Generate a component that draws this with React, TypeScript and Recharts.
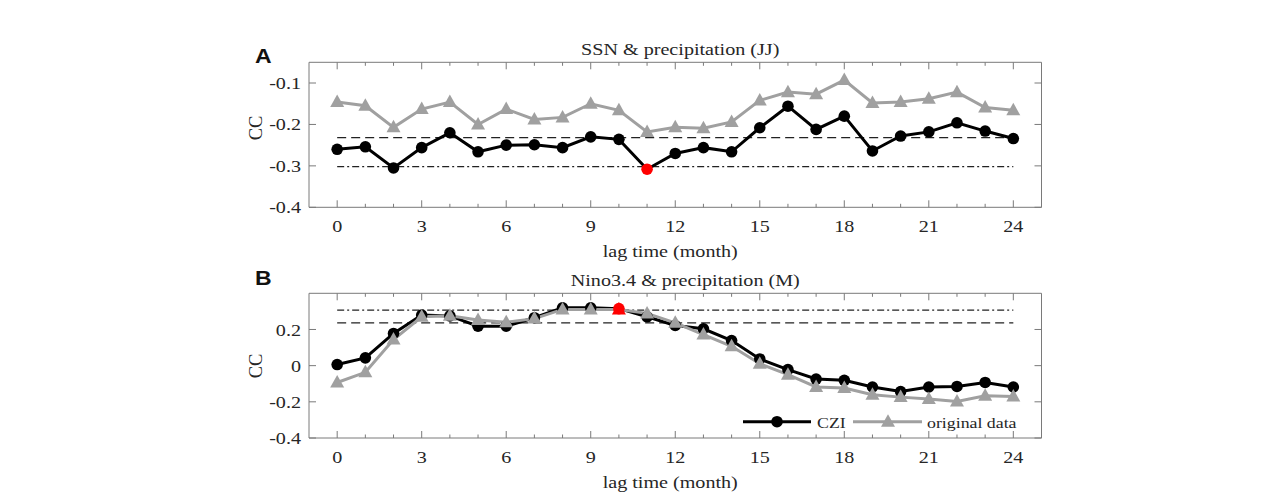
import React from "react";
import { LineChart, Line, XAxis, YAxis, ReferenceLine, Legend } from "recharts";

// lag time (month)
const lags = [0, 1, 2, 3, 4, 5, 6, 7, 8, 9, 10, 11, 12, 13, 14, 15, 16, 17, 18, 19, 20, 21, 22, 23, 24];

// panel A: SSN & precipitation (JJ)
const cziA = [-0.26, -0.254, -0.305, -0.256, -0.22, -0.266, -0.25, -0.249, -0.256, -0.23, -0.236, -0.308, -0.27, -0.256, -0.266, -0.208, -0.156, -0.212, -0.18, -0.264, -0.228, -0.218, -0.196, -0.216, -0.234];
const origA = [-0.146, -0.155, -0.207, -0.163, -0.146, -0.2, -0.163, -0.188, -0.183, -0.15, -0.166, -0.218, -0.207, -0.209, -0.194, -0.142, -0.122, -0.127, -0.093, -0.148, -0.146, -0.138, -0.122, -0.159, -0.166];
const dashedA = -0.232;
const dashDotA = -0.302;
const yTicksA = [-0.4, -0.3, -0.2, -0.1];

// panel B: Nino3.4 & precipitation (M)
const cziB = [0.006, 0.043, 0.178, 0.28, 0.275, 0.218, 0.218, 0.265, 0.32, 0.32, 0.315, 0.27, 0.222, 0.204, 0.139, 0.037, -0.022, -0.074, -0.081, -0.118, -0.143, -0.118, -0.115, -0.093, -0.118];
const origB = [-0.093, -0.037, 0.144, 0.27, 0.276, 0.252, 0.24, 0.26, 0.311, 0.31, 0.31, 0.289, 0.237, 0.172, 0.107, 0.011, -0.05, -0.118, -0.124, -0.161, -0.174, -0.185, -0.198, -0.167, -0.17];
const dashedB = 0.237;
const dashDotB = 0.307;
const yTicksB = [-0.4, -0.2, 0, 0.2];

const SERIF = '"Liberation Serif", "Times New Roman", serif';
const SANS = '"Liberation Sans", Arial, sans-serif';
const AXIS = "#7a7a7a";
const TXT = "#262626";
const GRAY = "#a0a0a0";
const RED = "#ff0000";
const SX = 1.15; // the figure is a bit stretched sideways
const PLOT_L = 309;
const PLOT_R = 1041.5;
const Y_W = 60;
const X_H = 30;

const Txt = ({ x, y, anchor = "middle", size = 17.5, baseline, children }: any) => (
  <text
    transform={`translate(${x},${y}) scale(${SX},1)`}
    textAnchor={anchor}
    dominantBaseline={baseline}
    fontFamily={SERIF}
    fontSize={size}
    fill={TXT}
  >
    {children}
  </text>
);

const bottomTick = (p: any) => {
  const major = p.payload.value % 3 === 0;
  return (
    <g key={`b${p.index}`}>
      <line x1={p.x} x2={p.x} y1={p.y} y2={p.y - (major ? 7 : 3.5)} stroke={AXIS} />
      {major && <Txt x={p.x} y={p.y + 24.5}>{p.payload.value}</Txt>}
    </g>
  );
};

const topTick = (p: any) => {
  const major = p.payload.value % 3 === 0;
  return <line key={`t${p.index}`} x1={p.x} x2={p.x} y1={p.y} y2={p.y + (major ? 7 : 3.5)} stroke={AXIS} />;
};

const leftTick = (p: any) => (
  <g key={`l${p.index}`}>
    <line x1={p.x} x2={p.x + 7} y1={p.y} y2={p.y} stroke={AXIS} />
    <Txt x={p.x - 8} y={p.y} anchor="end" baseline="central">
      {String(p.payload.value)}
    </Txt>
  </g>
);

const rightTick = (p: any) => (
  <line key={`r${p.index}`} x1={p.x} x2={p.x - 7} y1={p.y} y2={p.y} stroke={AXIS} />
);

const circleDot = (peak: number) => (p: any) => (
  <circle key={`c${p.index}`} cx={p.cx} cy={p.cy} r={5.8} fill={p.index === peak ? RED : "#000"} />
);

const triDot = (peak: number) => (p: any) => (
  <polygon
    key={`g${p.index}`}
    points={`${p.cx},${p.cy - 7.5} ${p.cx - 7},${p.cy + 5} ${p.cx + 7},${p.cy + 5}`}
    fill={p.index === peak ? RED : GRAY}
  />
);

const legendBox = () => (
  <svg width={300} height={24} style={{ display: "block", overflow: "visible" }}>
    <line x1={3} x2={71} y1={11.7} y2={11.7} stroke="#000" strokeWidth={3} />
    <circle cx={37} cy={11.7} r={5.8} fill="#000" />
    <Txt x={77} y={17.5} anchor="start" size={15.5}>CZI</Txt>
    <line x1={113} x2={182} y1={11.7} y2={11.7} stroke={GRAY} strokeWidth={3} />
    <polygon points="148,4.2 141,16.7 155,16.7" fill={GRAY} />
    <Txt x={187} y={17.5} anchor="start" size={15.5}>original data</Txt>
  </svg>
);

function Panel(props: any) {
  const { top, height, plotTop, plotBottom, cz, og, yDomain, yTicks, dashed, dashDot } = props;
  const rows = lags.map((lag, i) => ({ lag, czi: cz[i], orig: og[i] }));
  const midX = (PLOT_L + PLOT_R) / 2;

  return (
    <div style={{ position: "absolute", left: 0, top, width: 1288, height }}>
      <LineChart
        width={1288}
        height={height}
        data={rows}
        margin={{ top: plotTop - 1, left: PLOT_L - Y_W, right: 1288 - PLOT_R - 1, bottom: height - plotBottom - X_H }}
      >
        <XAxis
          type="number"
          dataKey="lag"
          domain={[-1, 25]}
          allowDataOverflow
          ticks={lags}
          interval={0}
          height={X_H}
          tickSize={0}
          tickMargin={0}
          tickLine={false}
          tick={bottomTick}
          axisLine={{ stroke: AXIS }}
          label={() => (
            <Txt x={midX - 5} y={plotBottom + 50}>
              lag time (month)
            </Txt>
          )}
        />
        <XAxis
          xAxisId="t"
          orientation="top"
          type="number"
          dataKey="lag"
          domain={[-1, 25]}
          allowDataOverflow
          ticks={lags}
          interval={0}
          height={1}
          tickSize={0}
          tickMargin={0}
          tickLine={false}
          tick={topTick}
          axisLine={{ stroke: AXIS }}
          label={() => (
            <Txt x={midX + props.titleDx} y={plotTop - 7}>
              {props.title}
            </Txt>
          )}
        />
        <YAxis
          type="number"
          domain={yDomain}
          allowDataOverflow
          ticks={yTicks}
          interval={0}
          width={Y_W}
          tickSize={0}
          tickMargin={0}
          tickLine={false}
          tick={leftTick}
          axisLine={{ stroke: AXIS }}
          label={() => (
            <g>
              <text
                transform={`translate(256,${props.ccY}) rotate(-90)`}
                textAnchor="middle"
                dominantBaseline="central"
                fontFamily={SERIF}
                fontSize={18.5}
                fill={TXT}
              >
                CC
              </text>
              <text
                transform={`translate(255,${props.letterY}) scale(${SX},1)`}
                fontFamily={SANS}
                fontWeight="bold"
                fontSize={20}
                fill="#111"
              >
                {props.letter}
              </text>
            </g>
          )}
        />
        <YAxis
          yAxisId="r"
          orientation="right"
          type="number"
          domain={yDomain}
          allowDataOverflow
          ticks={yTicks}
          interval={0}
          width={1}
          tickSize={0}
          tickMargin={0}
          tickLine={false}
          tick={rightTick}
          axisLine={{ stroke: AXIS }}
        />
        <ReferenceLine
          segment={[{ x: 0, y: dashed }, { x: 24, y: dashed }]}
          stroke="#222"
          strokeWidth={1.2}
          strokeDasharray="9 5"
        />
        <ReferenceLine
          segment={[{ x: 0, y: dashDot }, { x: 24, y: dashDot }]}
          stroke="#222"
          strokeWidth={1.2}
          strokeDasharray="7 3 2 3"
        />
        <Line
          dataKey="czi"
          name="CZI"
          stroke="#000"
          strokeWidth={3}
          dot={circleDot(props.peakCzi)}
          activeDot={false}
          isAnimationActive={false}
        />
        <Line
          dataKey="orig"
          name="original data"
          stroke={GRAY}
          strokeWidth={3}
          dot={triDot(props.peakOrig)}
          activeDot={false}
          isAnimationActive={false}
        />
        {props.legend && (
          <Legend
            layout="horizontal"
            verticalAlign="middle"
            align="center"
            content={legendBox}
            wrapperStyle={{ left: 740, top: 410 - top, width: 300, height: 24 }}
          />
        )}
      </LineChart>
    </div>
  );
}

export default function App() {
  return (
    <div style={{ position: "absolute", left: 0, top: 0, width: 1288, height: 495, background: "#fff" }}>
      <Panel
        top={0}
        height={266}
        plotTop={62.3}
        plotBottom={207.3}
        cz={cziA}
        og={origA}
        yDomain={[-0.4, -0.05]}
        yTicks={yTicksA}
        dashed={dashedA}
        dashDot={dashDotA}
        title="SSN & precipitation (JJ)"
        titleDx={5}
        letter="A"
        letterY={63.3}
        ccY={128}
        peakCzi={11}
        peakOrig={-1}
      />
      <Panel
        top={250}
        height={245}
        plotTop={43.3}
        plotBottom={188}
        cz={cziB}
        og={origB}
        yDomain={[-0.4, 0.4]}
        yTicks={yTicksB}
        dashed={dashedB}
        dashDot={dashDotB}
        title="Nino3.4 & precipitation (M)"
        titleDx={10}
        letter="B"
        letterY={35}
        ccY={116}
        peakCzi={10}
        peakOrig={10}
        legend
      />
    </div>
  );
}
